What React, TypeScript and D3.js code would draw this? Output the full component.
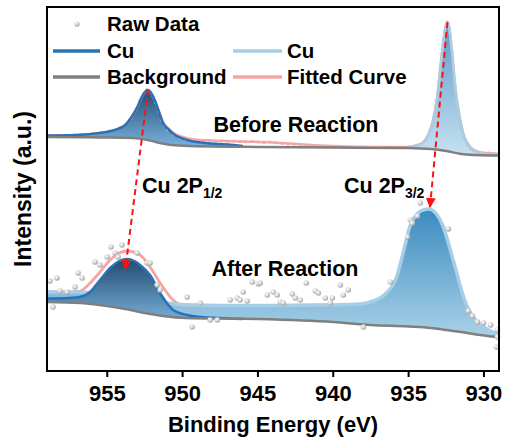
import React from "react";
import * as d3 from "d3";

type Pt = [number, number]; // [binding energy (eV), intensity (a.u.)]

// ---- Before reaction ----
const beforeBackground: Pt[] = [
  [959, 234], [955.5, 233.5], [953.3, 233], [952.3, 231], [951.5, 228], [950.7, 226],
  [949.5, 225], [945, 224], [940, 223.5], [935, 223], [933.5, 222], [932.5, 220],
  [931.5, 217], [930.5, 216], [929, 215.5],
];
const beforeCu2p12: Pt[] = [
  [959, 235.5], [957, 236], [955.5, 238], [954.5, 241], [953.8, 246], [953.3, 256],
  [953.0, 264], [952.8, 271], [952.55, 278], [952.3, 281], [952.05, 277], [951.8, 269],
  [951.5, 256], [951.3, 248], [950.9, 241], [950.6, 237], [949.7, 231], [948.5, 228],
  [947, 226.5], [946, 225],
];
const beforeCu2p32: Pt[] = [
  [935, 223], [934.5, 225], [934, 229], [933.7, 236], [933.4, 249], [933.1, 274],
  [932.85, 309], [932.65, 335], [932.45, 349], [932.3, 343], [932.1, 316], [931.9, 283],
  [931.6, 253], [931.3, 233], [930.9, 223], [930.5, 219], [930, 217], [929, 216],
];
const beforeFitted: Pt[] = [
  [959, 235.5], [957, 236], [955.5, 238], [954.5, 241], [953.8, 246], [953.3, 256],
  [953.0, 264], [952.8, 271], [952.55, 278], [952.3, 281], [952.05, 277], [951.8, 269],
  [951.5, 257], [951.3, 249], [950.9, 242], [950.6, 238], [950, 234], [949.2, 231.5],
  [948, 230.5], [946, 229.5], [944, 228.5], [942, 226.5], [940, 225], [937, 224],
  [935, 224], [934.5, 225.5], [934, 229], [933.7, 236], [933.4, 249], [933.1, 274],
  [932.85, 309], [932.65, 335], [932.45, 349], [932.3, 343], [932.1, 316], [931.9, 283],
  [931.6, 253], [931.3, 234], [930.9, 224], [930.5, 220], [930, 218], [929, 217],
];
const beforeRaw: Pt[] = [
  [959, 235], [958.4, 235.5], [957.8, 235.5], [957.2, 236], [956.6, 236], [956, 237],
  [955.4, 238], [954.8, 240], [954.2, 243], [953.8, 246], [953.4, 253], [953.1, 262],
  [952.85, 270], [952.6, 277], [952.4, 281], [952.2, 280], [952.0, 275], [951.8, 268],
  [951.6, 259], [951.4, 251], [951.2, 245], [951.0, 241], [950.6, 236], [950.2, 233],
  [949.8, 231.5], [949.4, 231], [949.0, 230.5], [948.6, 230], [948.2, 230], [947.8, 229.5],
  [947.4, 230], [947.0, 229.5], [946.6, 230], [946.2, 229.5], [945.8, 229], [945.4, 229.5],
  [945.0, 229], [944.6, 228.5], [944.2, 229], [943.8, 228], [943.4, 227.5], [943.0, 227],
  [942.6, 226.5], [942.2, 226], [941.8, 225.5], [941.4, 225], [941.0, 224.5], [940, 224],
  [939, 224], [938, 224], [937, 223.5], [936, 223.5], [935, 224], [934.5, 225], [934.0, 229],
  [933.6, 239], [933.3, 256], [933.0, 281], [932.8, 316], [932.6, 339], [932.45, 349],
  [932.3, 343], [932.1, 319], [931.9, 286], [931.7, 261], [931.5, 243], [931.3, 233],
  [931.1, 226], [930.9, 222], [930.7, 220], [930.5, 219], [930.3, 218.5], [930.1, 218],
  [929.9, 218], [929.7, 218], [929.5, 217.5], [929.3, 217.5], [929.1, 217],
];

// ---- After reaction ----
const afterBackground: Pt[] = [
  [959, 69], [956.8, 68], [955.5, 66], [953.8, 62], [952.5, 58], [951.3, 55], [949.8, 53],
  [945, 52], [940, 49], [937.5, 46], [935, 44.5], [933.5, 43], [932.5, 41], [931.5, 39],
  [930.5, 36.5], [929.5, 34.5], [929, 34],
];
const afterCu2p12: Pt[] = [
  [959, 72.5], [957.5, 73], [956.8, 74], [956.14, 79], [955.48, 91], [954.81, 103],
  [954.2, 110], [953.68, 112], [953.2, 110], [952.82, 106], [952.16, 96], [951.49, 78],
  [951.0, 67], [950.63, 61], [949.7, 56], [948.8, 54], [947.5, 53], [946, 52],
];
const afterCu2p32: Pt[] = [
  [959, 79], [957, 79], [955, 77], [953, 73], [951, 68], [949.5, 66], [947, 65.5],
  [944, 65.5], [940, 66], [938.2, 67], [937.35, 70], [936.9, 73], [936.4, 79], [936.0, 87],
  [935.75, 96], [935.48, 111], [935.2, 128], [934.95, 143], [934.6, 154], [934.2, 160],
  [933.68, 162], [933.15, 157], [932.75, 146], [932.42, 131], [932.1, 114], [931.8, 98],
  [931.5, 81], [931.1, 64], [930.56, 51], [929.9, 43], [929, 36],
];
const afterFitted: Pt[] = [
  [959, 79], [957.5, 79], [956.81, 80], [956.14, 88], [955.48, 99], [954.81, 111],
  [954.2, 118], [953.68, 120], [952.82, 116], [952.16, 104], [951.49, 88], [950.63, 71],
  [950.03, 66], [949.5, 66], [947, 65.5], [944, 65.5], [940, 66],
];
const afterRaw: Pt[] = [
  [958.8, 90], [958.34, 93], [958.6, 64], [958.14, 80], [956.94, 98], [956.67, 93],
  [957.14, 84], [957.67, 79], [955.81, 109], [955.48, 106], [955.01, 114], [954.75, 124],
  [954.48, 118], [954.02, 126], [954.28, 114], [953.02, 118], [952.36, 108], [952.16, 108],
  [951.69, 86], [951.49, 81], [949.7, 74], [949.37, 44], [948.83, 68], [948.17, 51],
  [947.7, 51], [946.84, 71], [946.38, 73], [946.18, 71], [945.71, 70], [945.98, 79],
  [945.38, 89], [944.98, 87], [944.85, 88], [944.38, 76], [943.98, 79], [943.72, 76],
  [943.52, 69], [943.32, 68], [942.72, 77], [942.52, 73], [942.19, 71], [941.79, 88],
  [941.19, 80], [940.99, 78], [940.53, 73], [940.06, 73], [940.2, 68], [939.53, 86],
  [939.33, 76], [939.0, 81], [938.0, 44], [936.21, 89], [935.08, 134], [934.88, 151],
  [934.75, 148], [934.42, 155], [934.22, 168], [932.36, 142], [931.03, 60], [930.76, 55],
  [930.43, 49], [930.03, 48], [929.56, 46], [929.1, 41], [929.17, 24], [929.1, 34],
];

// peak shift arrows: [from, to]
const shiftArrows: [Pt, Pt][] = [
  [[952.3, 281], [953.8, 102]],
  [[932.42, 349], [933.58, 164]],
];

const xTicks = [955, 950, 945, 940, 935, 930];

const W = 509;
const H = 444;
const margin = { top: 7, right: 10, bottom: 73, left: 47 };
const FONT = "'Liberation Sans', Arial, sans-serif";

const DARK = "#2a72b5";
const LIGHT = "#a6cee6";
const GRAY = "#7f7f7f";
const PINK = "#f6a5a5";

export default function App() {
  const x = d3.scaleLinear().domain([959, 929]).range([margin.left, W - margin.right]);
  const y = d3.scaleLinear().domain([0, 364]).range([H - margin.bottom, margin.top]);

  const line = d3
    .line<Pt>()
    .x((d) => x(d[0]))
    .y((d) => y(d[1]))
    .curve(d3.curveMonotoneX);

  // fill between a curve and its background
  const areaOver = (pts: Pt[], bg: Pt[]) => {
    const bgAt = d3.scaleLinear().domain(bg.map((d) => d[0])).range(bg.map((d) => d[1]));
    return d3
      .area<Pt>()
      .x((d) => x(d[0]))
      .y0((d) => y(bgAt(d[0])))
      .y1((d) => y(d[1]))
      .curve(d3.curveMonotoneX)(pts) as string;
  };

  const x0 = margin.left;
  const x1 = W - margin.right;
  const yB = H - margin.bottom;

  return (
    <svg
      width={W}
      height={H}
      style={{ position: "absolute", left: 0, top: 0, background: "#fff" }}
      fontFamily={FONT}
      fontWeight="bold"
    >
      <defs>
        <linearGradient id="gDarkBefore" x1="0" y1="0" x2="0" y2="1">
          <stop offset="0" stopColor="#234d75" />
          <stop offset="1" stopColor="#78b2dc" />
        </linearGradient>
        <linearGradient id="gDarkAfter" x1="0" y1="0" x2="0" y2="1">
          <stop offset="0" stopColor="#22496f" />
          <stop offset="1" stopColor="#74acd6" />
        </linearGradient>
        <linearGradient id="gLightBefore" x1="0" y1="0" x2="0" y2="1">
          <stop offset="0" stopColor="#5c9bcb" />
          <stop offset="1" stopColor="#c6e1f1" />
        </linearGradient>
        <linearGradient id="gLightAfter" x1="0" y1="0" x2="0" y2="1">
          <stop offset="0" stopColor="#3b8bc0" />
          <stop offset="1" stopColor="#a9d1e7" />
        </linearGradient>
        <radialGradient id="gDot" cx="0.38" cy="0.35" r="0.65">
          <stop offset="0" stopColor="#ffffff" />
          <stop offset="0.55" stopColor="#d2d2d2" />
          <stop offset="1" stopColor="#a2a2a2" />
        </radialGradient>
        <marker
          id="arrowHead"
          viewBox="0 0 10 10"
          refX="9"
          refY="5"
          markerWidth="10"
          markerHeight="10"
          markerUnits="userSpaceOnUse"
          orient="auto"
        >
          <path d="M0,0 L10,5 L0,10 z" fill="#ff1111" />
        </marker>
      </defs>

      {/* Before reaction */}
      <path d={areaOver(beforeCu2p12, beforeBackground)} fill="url(#gDarkBefore)" />
      <path d={areaOver(beforeCu2p32, beforeBackground)} fill="url(#gLightBefore)" />
      {beforeRaw.map((d, i) => (
        <circle key={"br" + i} cx={x(d[0])} cy={y(d[1])} r={1.4} fill="#bdbdbd" />
      ))}
      <path d={line(beforeFitted) as string} fill="none" stroke={PINK} strokeWidth={2.5} />
      <path d={line(beforeCu2p12) as string} fill="none" stroke={DARK} strokeWidth={2.5} />
      <path d={line(beforeCu2p32) as string} fill="none" stroke={LIGHT} strokeWidth={2.5} />
      <path d={line(beforeBackground) as string} fill="none" stroke={GRAY} strokeWidth={2.5} />

      {/* After reaction */}
      <path d={areaOver(afterCu2p32, afterBackground)} fill="url(#gLightAfter)" />
      <path d={line(afterFitted) as string} fill="none" stroke={PINK} strokeWidth={2.8} />
      <path d={line(afterCu2p32) as string} fill="none" stroke={LIGHT} strokeWidth={3.5} />
      <path d={areaOver(afterCu2p12, afterBackground)} fill="url(#gDarkAfter)" />
      <path d={line(afterCu2p12) as string} fill="none" stroke={DARK} strokeWidth={2.5} />
      <path d={line(afterBackground) as string} fill="none" stroke={GRAY} strokeWidth={2.5} />
      {afterRaw.map((d, i) => (
        <circle key={"ar" + i} cx={x(d[0])} cy={y(d[1])} r={2.8} fill="url(#gDot)" />
      ))}

      {/* peak shift arrows */}
      {shiftArrows.map(([a, b], i) => (
        <line
          key={"arr" + i}
          x1={x(a[0])}
          y1={y(a[1])}
          x2={x(b[0])}
          y2={y(b[1])}
          stroke="#ff1111"
          strokeWidth={2}
          strokeDasharray="6,4"
          markerEnd="url(#arrowHead)"
        />
      ))}

      {/* frame */}
      <rect x={x0} y={margin.top} width={x1 - x0} height={yB - margin.top} fill="none" stroke="#000" strokeWidth={2} />

      {/* x axis */}
      {xTicks.map((t) => (
        <g key={t} transform={`translate(${x(t)},${yB})`}>
          <line y1={0} y2={6} stroke="#000" strokeWidth={2} />
          <text y={30} textAnchor="middle" fontSize={22}>
            {t}
          </text>
        </g>
      ))}
      <text x={(x0 + x1) / 2} y={432} textAnchor="middle" fontSize={22}>
        Binding Energy (eV)
      </text>
      <text transform={`translate(31,${(margin.top + yB) / 2}) rotate(-90)`} textAnchor="middle" fontSize={23}>
        Intensity (a.u.)
      </text>

      {/* annotations */}
      <text x={296} y={132} textAnchor="middle" fontSize={21.5}>
        Before Reaction
      </text>
      <text x={285} y={276} textAnchor="middle" fontSize={21.5}>
        After Reaction
      </text>
      <text x={142} y={193} fontSize={21.5}>
        Cu 2P<tspan fontSize={14} dy={5}>1/2</tspan>
      </text>
      <text x={344} y={193} fontSize={21.5}>
        Cu 2P<tspan fontSize={14} dy={5}>3/2</tspan>
      </text>

      {/* legend */}
      <circle cx={77} cy={24} r={2.6} fill="url(#gDot)" />
      <text x={107} y={31} fontSize={20.5}>Raw Data</text>
      <line x1={53} x2={100} y1={51} y2={51} stroke={DARK} strokeWidth={3.5} />
      <text x={107} y={58} fontSize={20.5}>Cu</text>
      <line x1={53} x2={100} y1={77} y2={77} stroke={GRAY} strokeWidth={3.5} />
      <text x={107} y={84} fontSize={20.5}>Background</text>
      <line x1={233} x2={282} y1={51} y2={51} stroke={LIGHT} strokeWidth={3.5} />
      <text x={287} y={58} fontSize={20.5}>Cu</text>
      <line x1={233} x2={282} y1={77} y2={77} stroke={PINK} strokeWidth={3.5} />
      <text x={287} y={84} fontSize={20.5}>Fitted Curve</text>
    </svg>
  );
}
